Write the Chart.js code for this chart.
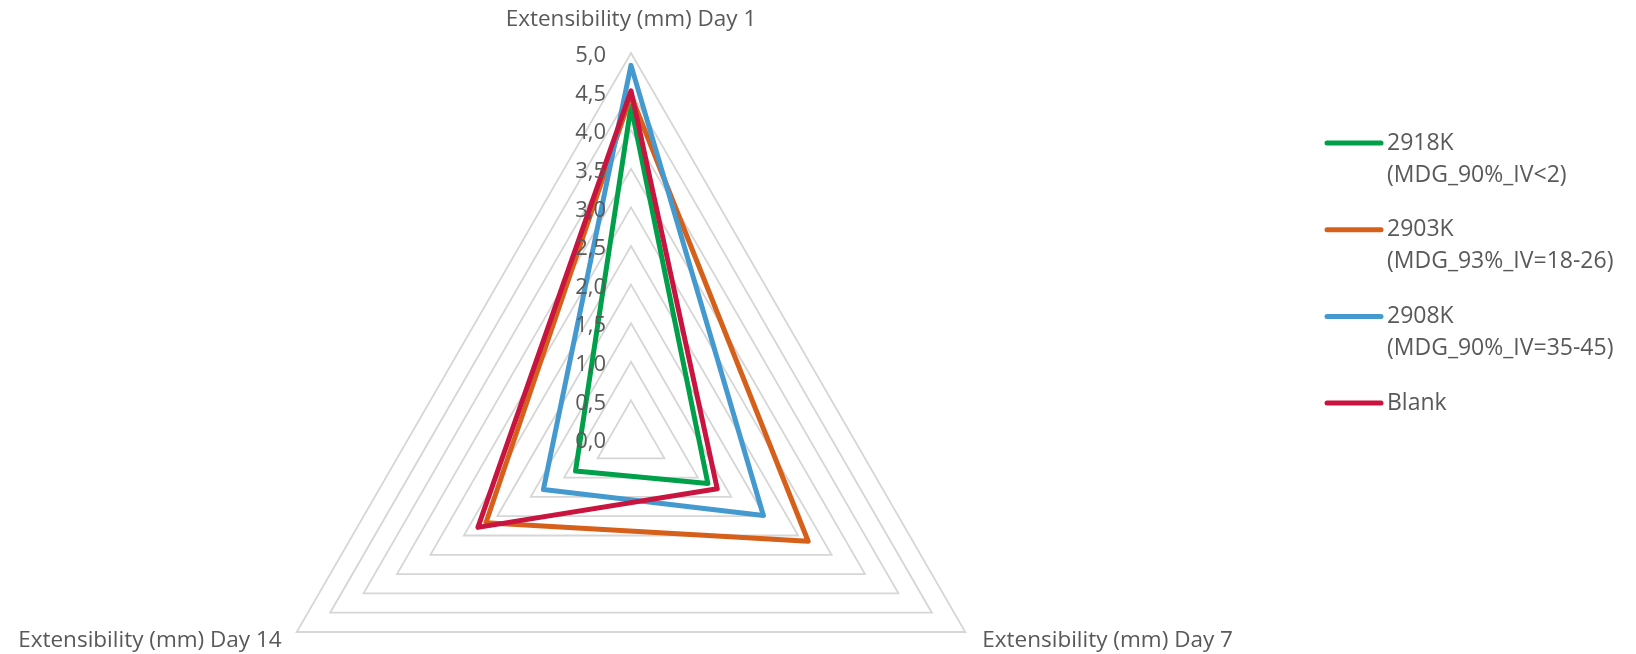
<!DOCTYPE html>
<html>
<head>
<meta charset="utf-8">
<title>Extensibility radar</title>
<script src="https://cdn.jsdelivr.net/npm/chart.js@4.4.1/dist/chart.umd.min.js"></script>
<style>
  html, body { margin: 0; padding: 0; background: #ffffff; }
  #wrap { width: 1636px; height: 654px; position: relative; }
</style>
</head>
<body>
<div id="wrap"><canvas id="radar" width="1636" height="654"></canvas></div>
<script>
// Axis categories (one spoke each)
const categories = ['Extensibility (mm) Day 1', 'Extensibility (mm) Day 7', 'Extensibility (mm) Day 14'];

// Radial tick labels, 0 to 5 in steps of 0.5
const tickLabels = ['0,0', '0,5', '1,0', '1,5', '2,0', '2,5', '3,0', '3,5', '4,0', '4,5', '5,0'];

// Series names (legend shows them over two lines)
const seriesNames = [
  ['2918K', '(MDG_90%_IV<2)'],
  ['2903K', '(MDG_93%_IV=18-26)'],
  ['2908K', '(MDG_90%_IV=35-45)'],
  ['Blank']
];

// Extensibility values (mm) for Day 1, Day 7, Day 14
const values2918K = [4.31, 1.15, 0.83];
const values2903K = [4.45, 2.65, 2.17];
const values2908K = [4.84, 1.98, 1.31];
const valuesBlank = [4.51, 1.29, 2.29];

const seriesColors = ['#00a04a', '#d6601a', '#4499cf', '#c8143f'];

const FONT = "'Open Sans', 'Noto Sans', sans-serif";
const TEXT_COLOR = '#595959';

// Draws the tick values, the spoke titles and the legend
const annotations = {
  id: 'annotations',
  afterDraw(chart) {
    const ctx = chart.ctx;
    const scale = chart.scales.r;
    ctx.save();
    ctx.fillStyle = TEXT_COLOR;

    // tick values, right-aligned just left of the vertical spoke
    ctx.font = '22px ' + FONT;
    ctx.textAlign = 'right';
    ctx.textBaseline = 'middle';
    scale.ticks.forEach((t, i) => {
      const p = scale.getPointPositionForValue(0, t.value);
      ctx.fillText(tickLabels[i] ?? String(t.value), p.x - 25, p.y + 3);
    });

    // spoke titles
    ctx.font = '22.5px ' + FONT;
    const r = scale.drawingArea;
    const top = scale.getPointPosition(0, r);
    ctx.textAlign = 'center';
    ctx.fillText(categories[0], top.x, top.y - 33);
    const right = scale.getPointPosition(1, r);
    ctx.textAlign = 'left';
    ctx.fillText(categories[1], right.x + 17, right.y + 9);
    const left = scale.getPointPosition(2, r);
    ctx.textAlign = 'right';
    ctx.fillText(categories[2], left.x - 15, left.y + 9);

    // legend
    ctx.font = '23px ' + FONT;
    const lx0 = 1327, lx1 = 1381, tx = 1387;
    const rowStart = 143, rowStep = 86.7, lineGap = 32;
    ctx.textAlign = 'left';
    chart.data.datasets.forEach((ds, i) => {
      const y = rowStart + i * rowStep;
      ctx.strokeStyle = ds.borderColor;
      ctx.lineWidth = 5;
      ctx.lineCap = 'round';
      ctx.beginPath();
      ctx.moveTo(lx0, y);
      ctx.lineTo(lx1, y);
      ctx.stroke();
      seriesNames[i].forEach((line, k) => {
        ctx.fillText(line, tx, y + k * lineGap);
      });
    });
    ctx.restore();
  }
};

const seriesValues = [values2918K, values2903K, values2908K, valuesBlank];

new Chart(document.getElementById('radar'), {
  type: 'radar',
  data: {
    labels: categories,
    datasets: seriesValues.map((vals, i) => ({
      label: seriesNames[i].join(' '),
      data: vals,
      borderColor: seriesColors[i],
      backgroundColor: 'transparent',
      borderWidth: 5,
      borderJoinStyle: 'round',
      borderCapStyle: 'round',
      pointRadius: 0,
      pointHoverRadius: 0,
      fill: false,
      order: seriesValues.length - 1 - i
    }))
  },
  options: {
    responsive: false,
    animation: false,
    devicePixelRatio: 1,
    layout: {
      padding: { left: 245, right: 619, top: 53, bottom: 0 }
    },
    plugins: {
      legend: { display: false },
      tooltip: { enabled: false }
    },
    scales: {
      r: {
        min: 0,
        max: 5,
        startAngle: 0,
        ticks: { display: false, stepSize: 0.5 },
        pointLabels: { display: false },
        angleLines: { display: false },
        grid: { color: '#d6d6d6', lineWidth: 1.8, circular: false },
        // The triangle's lower edge sits well above the circle's bottom, so the
        // radius follows the area's width and the centre hangs from its top.
        afterFit(scale) {
          const radius = Math.floor(scale.width / 2);
          scale.drawingArea = radius;
          scale.xCenter = Math.floor(scale.left + scale.width / 2);
          scale.yCenter = Math.floor(scale.top + radius);
        }
      }
    }
  },
  plugins: [annotations]
});
</script>
</body>
</html>
